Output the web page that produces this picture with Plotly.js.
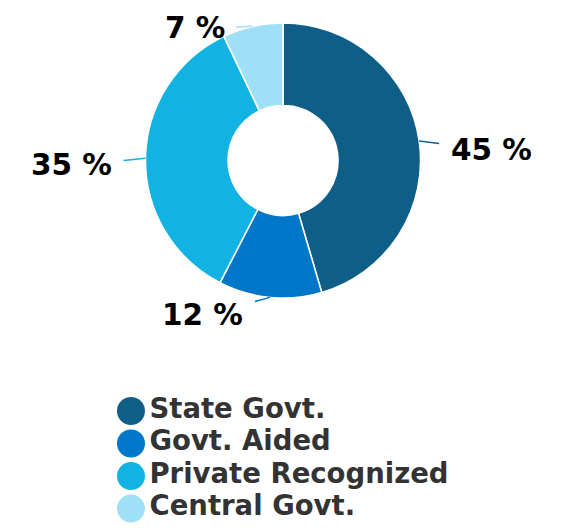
<!DOCTYPE html>
<html>
<head>
<meta charset="utf-8">
<script src="https://cdn.plot.ly/plotly-3.0.1.min.js"></script>
<style>html,body{margin:0;padding:0;background:#fff;}#chart{width:579px;height:531px;}</style>
</head>
<body>
<div id="chart"></div>
<script>
// ---- data ----
const categories = ['State Govt.', 'Govt. Aided', 'Private Recognized', 'Central Govt.'];
const shares = [45, 12, 35, 7];
const colors = ['#0f5e87', '#0077c8', '#12b2e2', '#a0e0f7'];

// ---- layout settings ----
const W = 579, H = 531;
const pieDomain = {x: [0.2513, 0.7263], y: [0.4388, 0.9567]};
const labelOffsets = [[72, 9], [-67, 18], [-74, 7], [-58, 2]]; // label centre offset (px) from slice edge
const legendX = 0.2262;
const fontFam = 'DejaVu Sans, Verdana, sans-serif';

// pie geometry in pixels (to anchor the outside labels on the slice edges)
const cx = (pieDomain.x[0] + pieDomain.x[1]) / 2 * W;
const cy = (1 - (pieDomain.y[0] + pieDomain.y[1]) / 2) * H;
const R = Math.min((pieDomain.x[1] - pieDomain.x[0]) * W, (pieDomain.y[1] - pieDomain.y[0]) * H) / 2;
const total = shares.reduce((a, b) => a + b, 0);

let cum = 0;
const annotations = shares.map((v, i) => {
  const mid = (cum + v / 2) / total * 2 * Math.PI;
  cum += v;
  const px = cx + R * Math.sin(mid);
  const py = cy - R * Math.cos(mid);
  return {
    xref: 'paper', yref: 'paper',
    x: px / W, y: 1 - py / H,
    ax: labelOffsets[i][0], ay: labelOffsets[i][1],
    text: v + ' %',
    showarrow: true, arrowhead: 0, arrowwidth: 1.5, arrowcolor: colors[i],
    standoff: 0, borderpad: 11,
    font: {family: fontFam, size: 29.5, color: '#000000', weight: 'bold'}
  };
});

const pie = {
  type: 'pie',
  labels: categories,
  values: shares,
  sort: false,
  direction: 'clockwise',
  rotation: 0,
  hole: 0.4,
  domain: pieDomain,
  textinfo: 'none',
  hoverinfo: 'none',
  showlegend: false,
  marker: {colors: colors, line: {color: '#ffffff', width: 1.5}}
};

const legendTrace = {
  type: 'scatter',
  mode: 'markers+text',
  x: categories.map(() => legendX),
  y: categories,
  text: categories,
  textposition: 'middle right',
  textfont: {family: fontFam, size: 27.5, color: '#333333', weight: 'bold'},
  marker: {color: colors, size: 28, line: {width: 0}},
  hoverinfo: 'none',
  showlegend: false,
  cliponaxis: false
};

const layout = {
  width: W, height: H,
  margin: {l: 0, r: 0, t: 0, b: 0},
  paper_bgcolor: '#ffffff',
  plot_bgcolor: 'rgba(0,0,0,0)',
  showlegend: false,
  xaxis: {range: [0, 1], domain: [0, 1], visible: false, fixedrange: true},
  yaxis: {type: 'category', range: [categories.length - 0.5, -0.5], domain: [0.0117, 0.2566], visible: false, fixedrange: true},
  annotations: annotations
};

Plotly.newPlot('chart', [pie, legendTrace], layout, {displayModeBar: false, staticPlot: true});
</script>
</body>
</html>
